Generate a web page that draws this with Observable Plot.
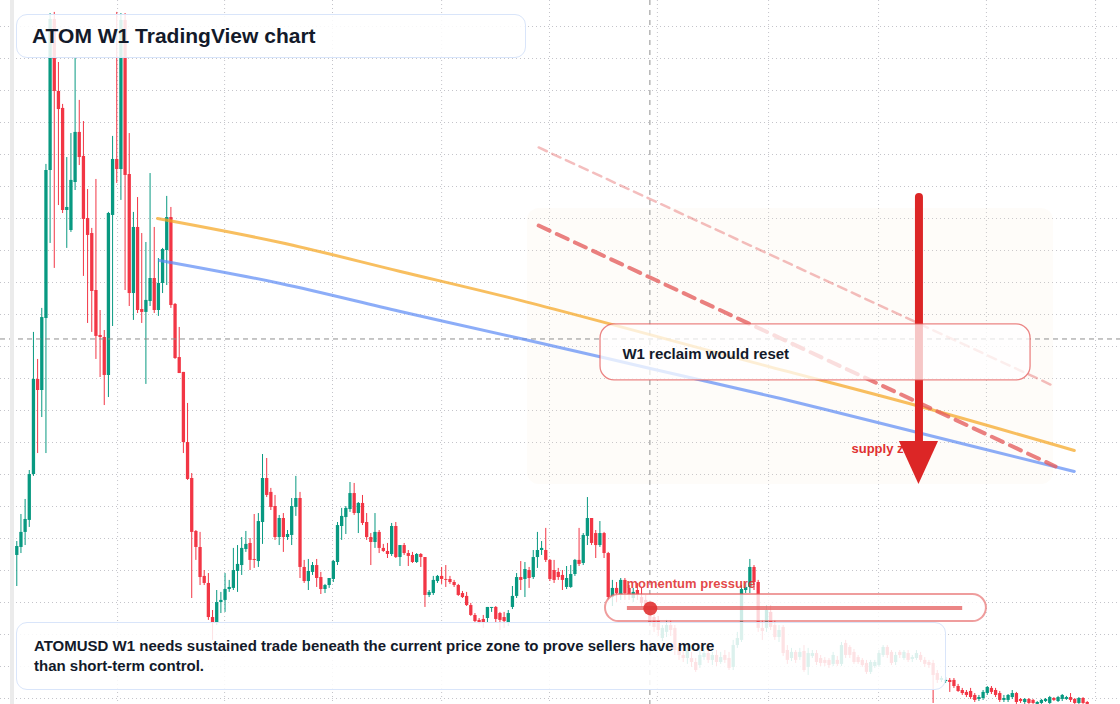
<!DOCTYPE html>
<html><head><meta charset="utf-8">
<script src="https://cdn.jsdelivr.net/npm/d3@7"></script>
<script src="https://cdn.jsdelivr.net/npm/@observablehq/plot@0.6"></script>
<style>
html,body{margin:0;padding:0;background:#fff;}
#wrap{position:relative;width:1120px;height:704px;overflow:hidden;font-family:"Liberation Sans",Arial,sans-serif;}
#chart svg{display:block}
.leftbar{position:absolute;left:10px;top:0;width:4px;height:704px;background:#ebebeb;}
.title{position:absolute;left:16px;top:14px;width:510px;height:44px;box-sizing:border-box;border:1.5px solid #d9e5fa;border-radius:11px;background:rgba(255,255,255,0.86);padding-left:15px;font-size:21px;font-weight:bold;color:#131a2a;line-height:41px;white-space:nowrap;}
.caption{position:absolute;left:16px;top:622px;width:930px;height:68px;box-sizing:border-box;border:1.5px solid #d9e5fa;border-radius:11px;background:rgba(255,255,255,0.86);padding:13px 17px;font-size:15px;font-weight:bold;color:#131a2a;line-height:20px;}
</style></head>
<body>
<div id="wrap">
  <div id="chart"></div>
  <div class="leftbar"></div>
  <div class="title" id="title"></div>
  <div class="caption" id="caption"></div>
</div>
<script>
// ---- weekly ATOMUSD candles (index = week number) ----
const open = [
10.94, 11.44, 12.38, 13.13, 16.00, 21.94, 21.25, 25.75, 35.00, 44.44,
39.94, 38.88, 32.50, 31.25, 34.25, 37.38, 35.88, 32.00, 31.06, 27.50,
24.69, 24.56, 22.19, 32.19, 35.69, 35.06, 44.38, 34.75, 27.31, 31.44,
26.31, 26.13, 26.81, 28.25, 26.25, 27.94, 30.00, 32.06, 26.63, 23.31,
22.38, 18.00, 15.75, 12.44, 11.44, 9.63, 9.19, 7.06, 6.75, 8.00,
8.13, 8.81, 8.88, 9.94, 10.31, 11.31, 11.69, 10.69, 10.56, 13.00,
15.75, 14.88, 14.00, 12.06, 13.25, 12.06, 12.19, 13.94, 14.50, 10.19,
9.31, 9.88, 10.31, 9.56, 8.81, 9.06, 9.44, 10.50, 12.75, 13.31,
13.81, 14.81, 13.56, 14.19, 13.00, 12.06, 11.75, 12.38, 11.38, 11.19,
11.00, 12.75, 10.81, 11.56, 11.06, 10.94, 10.50, 11.00, 10.81, 8.44,
8.56, 9.31, 9.63, 9.44, 9.44, 9.25, 9.06, 8.56, 8.38, 7.81,
7.19, 6.88, 6.94, 7.00, 7.63, 7.69, 7.31, 7.06, 6.75, 7.69,
8.38, 9.56, 9.44, 10.00, 9.56, 10.81, 11.25, 11.25, 10.63, 10.00,
9.88, 9.69, 8.94, 8.94, 9.75, 10.63, 10.44, 12.13, 13.25, 12.31,
11.56, 12.31, 11.06, 8.31, 8.88, 8.44, 9.38, 8.88, 8.25, 8.75,
8.31, 8.13, 7.63, 7.06, 6.88, 5.75, 6.13, 6.56, 6.38, 5.19,
4.69, 4.50, 4.50, 4.25, 4.06, 4.56, 4.81, 4.38, 4.69, 4.25,
4.69, 4.50, 3.94, 5.31, 5.63, 8.75, 8.94, 10.19, 9.25, 6.38,
6.38, 7.38, 6.56, 5.81, 6.44, 5.00, 4.50, 4.88, 4.56, 4.94,
3.94, 4.63, 4.81, 4.50, 4.38, 4.38, 4.13, 4.38, 4.13, 5.44,
5.19, 4.88, 4.56, 4.38, 4.19, 3.63, 4.00, 4.06, 4.69, 5.19,
4.88, 4.25, 4.88, 4.50, 4.81, 4.44, 4.50, 4.69, 4.38, 4.25,
4.19, 3.56, 3.13, 3.06, 3.13, 3.13, 2.75, 2.50, 2.38, 2.44,
2.19, 1.94, 2.00, 2.31, 2.63, 2.50, 2.31, 1.88, 1.88, 2.06,
2.31, 1.94, 1.75, 1.94, 1.88, 1.63, 1.69, 1.81, 1.69, 2.00,
1.81, 1.94, 1.94, 2.06, 1.94, 1.69, 2.00, 1.75];
const high = [
11.81, 13.50, 14.44, 16.25, 24.88, 23.19, 26.38, 35.38, 44.81, 44.88,
41.75, 39.13, 35.81, 37.31, 42.00, 39.38, 38.06, 33.81, 31.38, 34.44,
26.25, 25.00, 32.38, 37.13, 44.88, 44.81, 44.81, 37.31, 32.38, 33.31,
31.06, 30.50, 34.81, 31.44, 29.50, 30.13, 33.38, 32.69, 26.69, 25.19,
22.38, 20.44, 16.06, 12.50, 12.38, 10.00, 9.81, 7.50, 8.75, 8.63,
9.81, 9.38, 11.38, 11.56, 12.06, 12.44, 12.00, 13.50, 13.56, 17.25,
17.00, 15.13, 14.69, 13.44, 13.56, 12.50, 14.50, 15.88, 14.88, 10.63,
10.69, 10.50, 10.69, 9.88, 9.13, 9.50, 10.63, 13.00, 13.88, 14.00,
15.50, 15.44, 14.25, 14.69, 13.56, 12.31, 13.56, 12.50, 11.63, 11.69,
12.94, 13.00, 11.56, 11.69, 11.25, 11.13, 11.06, 11.06, 10.81, 8.75,
9.63, 9.69, 10.19, 10.31, 9.63, 9.38, 9.13, 8.69, 8.63, 7.94,
7.31, 7.00, 7.19, 7.69, 7.69, 7.75, 7.38, 7.38, 7.50, 9.00,
9.81, 10.56, 10.50, 10.19, 11.25, 12.38, 11.81, 12.63, 10.69, 10.63,
10.13, 10.00, 10.25, 10.31, 10.69, 12.63, 12.31, 14.56, 13.25, 12.50,
13.06, 12.38, 11.13, 9.38, 9.25, 9.50, 9.50, 9.06, 8.88, 9.19,
8.88, 8.44, 7.81, 7.38, 7.13, 6.56, 6.88, 6.88, 6.56, 5.31,
5.00, 5.31, 4.88, 4.50, 5.00, 5.13, 5.00, 4.88, 5.00, 4.88,
5.00, 4.88, 5.63, 6.13, 9.06, 9.19, 10.69, 10.31, 9.38, 6.88,
7.81, 7.81, 6.88, 6.56, 6.56, 5.31, 5.13, 5.00, 5.13, 5.31,
5.13, 5.00, 5.00, 4.69, 4.56, 4.50, 4.88, 4.63, 5.50, 5.63,
5.31, 5.06, 4.69, 4.50, 4.38, 4.38, 4.38, 5.00, 5.31, 5.31,
5.00, 4.88, 5.00, 5.00, 5.00, 4.69, 5.00, 4.88, 4.56, 4.38,
4.38, 3.75, 3.38, 3.31, 3.25, 3.25, 2.88, 2.63, 2.50, 2.63,
2.31, 2.19, 2.50, 2.75, 2.75, 2.63, 2.44, 2.19, 2.25, 2.50,
2.38, 2.00, 2.00, 2.00, 1.94, 1.81, 1.94, 2.00, 2.13, 2.06,
2.13, 2.25, 2.13, 2.31, 2.00, 2.06, 2.06, 1.81];
const low = [
9.00, 11.06, 11.56, 12.69, 15.88, 17.31, 19.56, 17.31, 30.44, 28.88,
32.81, 32.31, 30.13, 31.13, 33.75, 35.31, 28.38, 25.44, 24.88, 23.19,
22.06, 20.31, 20.81, 25.25, 34.19, 33.13, 27.50, 26.50, 25.63, 26.06,
25.44, 21.63, 26.50, 26.06, 25.88, 27.31, 27.81, 26.38, 23.19, 22.31,
17.31, 15.63, 8.25, 10.63, 9.06, 9.06, 6.88, 5.63, 6.56, 7.31,
7.38, 8.63, 8.75, 8.63, 9.69, 11.13, 10.00, 10.13, 10.19, 11.63,
14.56, 13.75, 11.88, 11.56, 11.13, 11.88, 11.56, 13.38, 9.50, 9.19,
8.75, 9.69, 8.94, 8.50, 8.56, 8.88, 9.25, 10.31, 11.88, 12.25,
13.63, 13.44, 12.31, 12.81, 11.88, 10.31, 11.38, 11.06, 11.13, 10.75,
10.88, 10.75, 10.25, 10.94, 10.25, 10.44, 10.44, 10.19, 7.69, 8.31,
8.44, 9.19, 9.13, 8.94, 9.13, 8.94, 8.38, 8.25, 7.75, 7.13,
6.75, 6.63, 6.38, 6.75, 7.38, 6.75, 6.25, 6.38, 6.50, 7.56,
8.25, 8.75, 8.31, 8.88, 9.44, 10.13, 10.94, 10.50, 9.31, 9.19,
9.38, 8.75, 8.81, 8.88, 9.63, 10.25, 10.31, 11.56, 11.56, 10.75,
11.44, 10.75, 8.13, 7.75, 8.00, 8.13, 8.13, 8.13, 8.00, 8.13,
7.69, 7.38, 6.50, 6.13, 5.88, 5.56, 5.81, 5.88, 4.69, 4.38,
4.25, 4.13, 3.94, 3.63, 3.88, 4.38, 4.19, 4.06, 4.00, 4.13,
4.19, 3.75, 3.75, 5.13, 5.50, 8.56, 8.56, 8.75, 6.13, 5.63,
6.13, 6.25, 5.63, 5.50, 4.63, 4.13, 4.31, 4.19, 4.38, 3.63,
3.44, 4.50, 4.06, 4.00, 4.00, 3.88, 4.00, 4.00, 4.00, 4.50,
4.50, 4.13, 4.13, 3.94, 3.50, 3.50, 3.88, 3.94, 4.56, 4.50,
4.06, 4.06, 4.50, 4.38, 4.25, 4.25, 4.38, 4.25, 3.94, 3.88,
1.69, 2.94, 3.00, 2.94, 2.38, 2.63, 2.38, 2.19, 2.06, 1.94,
1.75, 1.81, 1.88, 2.19, 2.25, 2.06, 1.75, 1.75, 1.75, 1.94,
1.63, 1.69, 1.63, 1.63, 1.63, 1.63, 1.63, 1.75, 1.63, 1.81,
1.75, 1.81, 1.88, 1.75, 1.63, 1.63, 1.63, 1.56];
const close = [
11.50, 12.38, 13.19, 16.00, 21.94, 21.25, 25.81, 35.00, 44.44, 39.94,
38.81, 32.50, 32.69, 34.38, 37.38, 35.81, 31.94, 30.94, 27.44, 24.63,
24.56, 22.19, 32.31, 35.69, 35.06, 44.38, 34.69, 27.31, 31.44, 26.25,
26.13, 26.88, 28.25, 26.25, 27.94, 30.06, 32.06, 26.56, 23.25, 22.31,
18.00, 15.69, 12.38, 11.44, 9.56, 9.19, 7.06, 6.75, 8.00, 8.13,
8.81, 8.94, 10.00, 10.38, 11.38, 11.63, 10.63, 10.63, 13.06, 15.75,
14.69, 13.94, 12.06, 13.25, 12.06, 12.25, 14.00, 14.50, 10.19, 9.31,
9.94, 10.31, 9.50, 8.81, 9.06, 9.50, 10.56, 12.81, 13.38, 13.88,
14.81, 13.56, 14.19, 12.94, 12.06, 11.75, 12.38, 11.38, 11.19, 11.00,
12.75, 10.81, 11.56, 11.06, 10.88, 10.50, 11.00, 10.81, 8.44, 8.63,
9.38, 9.63, 9.44, 9.38, 9.25, 9.06, 8.44, 8.31, 7.81, 7.19,
6.81, 6.75, 6.69, 7.69, 7.69, 6.94, 6.88, 6.81, 7.31, 8.38,
9.56, 9.38, 10.06, 9.50, 10.81, 11.25, 11.38, 10.63, 9.44, 9.38,
9.56, 9.38, 9.50, 9.75, 10.63, 10.38, 12.19, 13.25, 11.69, 11.56,
12.31, 11.06, 8.31, 8.88, 8.56, 9.38, 8.56, 8.44, 8.63, 8.44,
7.94, 7.69, 6.75, 6.44, 6.25, 6.38, 6.56, 6.25, 5.00, 4.69,
4.50, 5.00, 4.25, 3.75, 4.69, 4.81, 4.38, 4.69, 4.25, 4.56,
4.38, 3.88, 5.31, 5.75, 8.81, 8.94, 10.19, 9.25, 6.38, 6.19,
7.50, 6.44, 5.81, 6.25, 4.81, 4.38, 4.88, 4.38, 4.88, 3.75,
4.81, 4.81, 4.25, 4.19, 4.19, 4.06, 4.69, 4.13, 5.31, 4.69,
4.69, 4.25, 4.25, 4.06, 3.63, 4.25, 4.25, 4.81, 5.19, 4.69,
4.19, 4.69, 4.69, 4.88, 4.38, 4.56, 4.81, 4.38, 4.13, 4.06,
3.44, 3.13, 3.25, 3.13, 3.00, 2.75, 2.44, 2.31, 2.19, 2.06,
1.88, 2.06, 2.38, 2.69, 2.38, 2.19, 1.88, 2.00, 2.19, 2.31,
1.75, 1.81, 1.94, 1.69, 1.69, 1.75, 1.88, 1.94, 2.06, 1.88,
2.06, 2.19, 2.06, 1.88, 1.69, 2.00, 1.69, 1.63];

// ---- grid ticks ----
const priceTicks = [2,4,6,8,10,12,14,16,18,20,22,24,26,28,30,32,34,36,38,40,42,44];
const timeTicks = [24.2, 49.9, 75.8, 102.0, 127.9, 153.8, 180.5, 206.9, 232.8, 259.0];

// ---- drawn annotations (week index, price) ----
const crosshair = {i: 152.0, p: 24.47};
const orangeTrend = [
  {i: 33.8, p: 32.0}, {i: 63.3, p: 30.5}, {i: 92.1, p: 28.69}, {i: 120.9, p: 26.88},
  {i: 178.6, p: 22.88}, {i: 216.0, p: 20.31}, {i: 253.9, p: 17.5}];
const blueTrend = [
  {i: 34.3, p: 29.38}, {i: 63.3, p: 27.94}, {i: 92.1, p: 26.19}, {i: 120.9, p: 24.5},
  {i: 152.1, p: 22.63}, {i: 183.4, p: 20.75}, {i: 213.4, p: 18.81}, {i: 253.9, p: 16.19}];
const dashUpper = [{i: 125.3, p: 36.44}, {i: 249.2, p: 21.5}];
const dashLower = [{i: 125.3, p: 31.56}, {i: 249.4, p: 16.5}];
const supplyZone = {i1: 122.6, i2: 248.9, p1: 15.38, p2: 32.63};
const reclaimBox = {i1: 140.15, i2: 243.4, p1: 21.88, p2: 25.38, ti: 145.4, tp: 23.53, label: "W1 reclaim would reset"};
const supplyLabel = {i: 200.4, p: 17.59, label: "supply zone"};
const arrowShaft = {i: 216.6, p1: 17.9, p2: 33.31};
const arrowHead = [{i: 211.9, base: 18.06, tip: 18.06}, {i: 216.6, base: 18.06, tip: 15.38}, {i: 221.3, base: 18.06, tip: 18.06}];
const momentumPill = {i1: 141.34, i2: 232.8, p1: 6.81, p2: 8.5};
const momentumTrack = {i1: 146.6, i2: 227.1, p: 7.66};
const momentumDot = {i: 152.1, p: 7.63};
const momentumLabel = {i: 146.4, p: 9.16, label: "momentum pressure"};
const titleText = "ATOM W1 TradingView chart";
const captionLines = ["ATOMUSD W1 needs sustained trade beneath the current price zone to prove sellers have more", "than short-term control."];

const candles = open.map((o, i) => ({i, o, h: high[i], l: low[i], c: close[i], up: close[i] >= o}));
const UP = "#089981", DOWN = "#f23645";
const FONT = "Liberation Sans, Arial, sans-serif";
const RED = "#e45c5c";

const chart = Plot.plot({
  width: 1120, height: 704,
  marginTop: 0, marginRight: 0, marginBottom: 0, marginLeft: 0,
  x: {domain: [-3.91, 264.99], axis: null},
  y: {domain: [1.625, 45.625], axis: null},
  style: {background: "white", fontFamily: FONT},
  marks: [
    Plot.ruleY(priceTicks, {stroke: "#c4c4ca", strokeWidth: 1, strokeDasharray: "1,3"}),
    Plot.ruleX(timeTicks, {stroke: "#c4c4ca", strokeWidth: 1, strokeDasharray: "1,3"}),
    Plot.rect([supplyZone], {x1: "i1", x2: "i2", y1: "p1", y2: "p2", fill: "#f6e4d2", fillOpacity: 0.13, rx: 12}),
    Plot.ruleX(candles, {x: "i", y1: "l", y2: "h", stroke: d => d.up ? UP : DOWN, strokeWidth: 1}),
    Plot.ruleX(candles, {x: "i", y1: "o", y2: "c", stroke: d => d.up ? UP : DOWN, strokeWidth: 3.3}),
    Plot.ruleX([crosshair], {x: "i", stroke: "#8f8f8f", strokeWidth: 1, strokeDasharray: "5,5"}),
    Plot.ruleY([crosshair], {y: "p", stroke: "#8f8f8f", strokeWidth: 1, strokeDasharray: "5,4"}),
    Plot.line(orangeTrend, {x: "i", y: "p", curve: "catmull-rom", stroke: "#f5a623", strokeOpacity: 0.72, strokeWidth: 3}),
    Plot.line(blueTrend, {x: "i", y: "p", curve: "catmull-rom", stroke: "#5b8af5", strokeOpacity: 0.7, strokeWidth: 3}),
    Plot.line(dashUpper, {x: "i", y: "p", stroke: RED, strokeOpacity: 0.4, strokeWidth: 2.5, strokeDasharray: "9,6"}),
    Plot.line(dashLower, {x: "i", y: "p", stroke: RED, strokeOpacity: 0.78, strokeWidth: 4, strokeDasharray: "12,8"}),
    Plot.text([supplyLabel], {x: "i", y: "p", text: "label", textAnchor: "start", fill: "#e03131", fontSize: 13, fontWeight: "bold", fontFamily: FONT}),
    Plot.ruleX([arrowShaft], {x: "i", y1: "p1", y2: "p2", stroke: "#dc2626", strokeWidth: 8, strokeLinecap: "round"}),
    Plot.areaY(arrowHead, {x: "i", y1: "tip", y2: "base", fill: "#dc2626"}),
    Plot.rect([reclaimBox], {x1: "i1", x2: "i2", y1: "p1", y2: "p2", fill: "white", fillOpacity: 0.74, stroke: RED, strokeOpacity: 0.75, strokeWidth: 1.3, rx: 14}),
    Plot.text([reclaimBox], {x: "ti", y: "tp", text: "label", textAnchor: "start", fill: "#131a2a", fontSize: 15, fontWeight: "bold", fontFamily: FONT}),
    Plot.rect([momentumPill], {x1: "i1", x2: "i2", y1: "p1", y2: "p2", fill: "white", fillOpacity: 0.8, stroke: RED, strokeOpacity: 0.6, strokeWidth: 2, rx: 13.5}),
    Plot.ruleY([momentumTrack], {x1: "i1", x2: "i2", y: "p", stroke: RED, strokeOpacity: 0.75, strokeWidth: 4}),
    Plot.dot([momentumDot], {x: "i", y: "p", r: 7, fill: "#e03131", fillOpacity: 0.9}),
    Plot.text([momentumLabel], {x: "i", y: "p", text: "label", textAnchor: "start", fill: "#e03131", fillOpacity: 0.9, fontSize: 13, fontWeight: "bold", fontFamily: FONT})
  ]
});
document.getElementById("chart").appendChild(chart);
document.getElementById("title").textContent = titleText;
const cap = document.getElementById("caption");
captionLines.forEach((t, k) => { if (k) cap.appendChild(document.createElement("br")); cap.appendChild(document.createTextNode(t)); });
</script>
</body></html>
